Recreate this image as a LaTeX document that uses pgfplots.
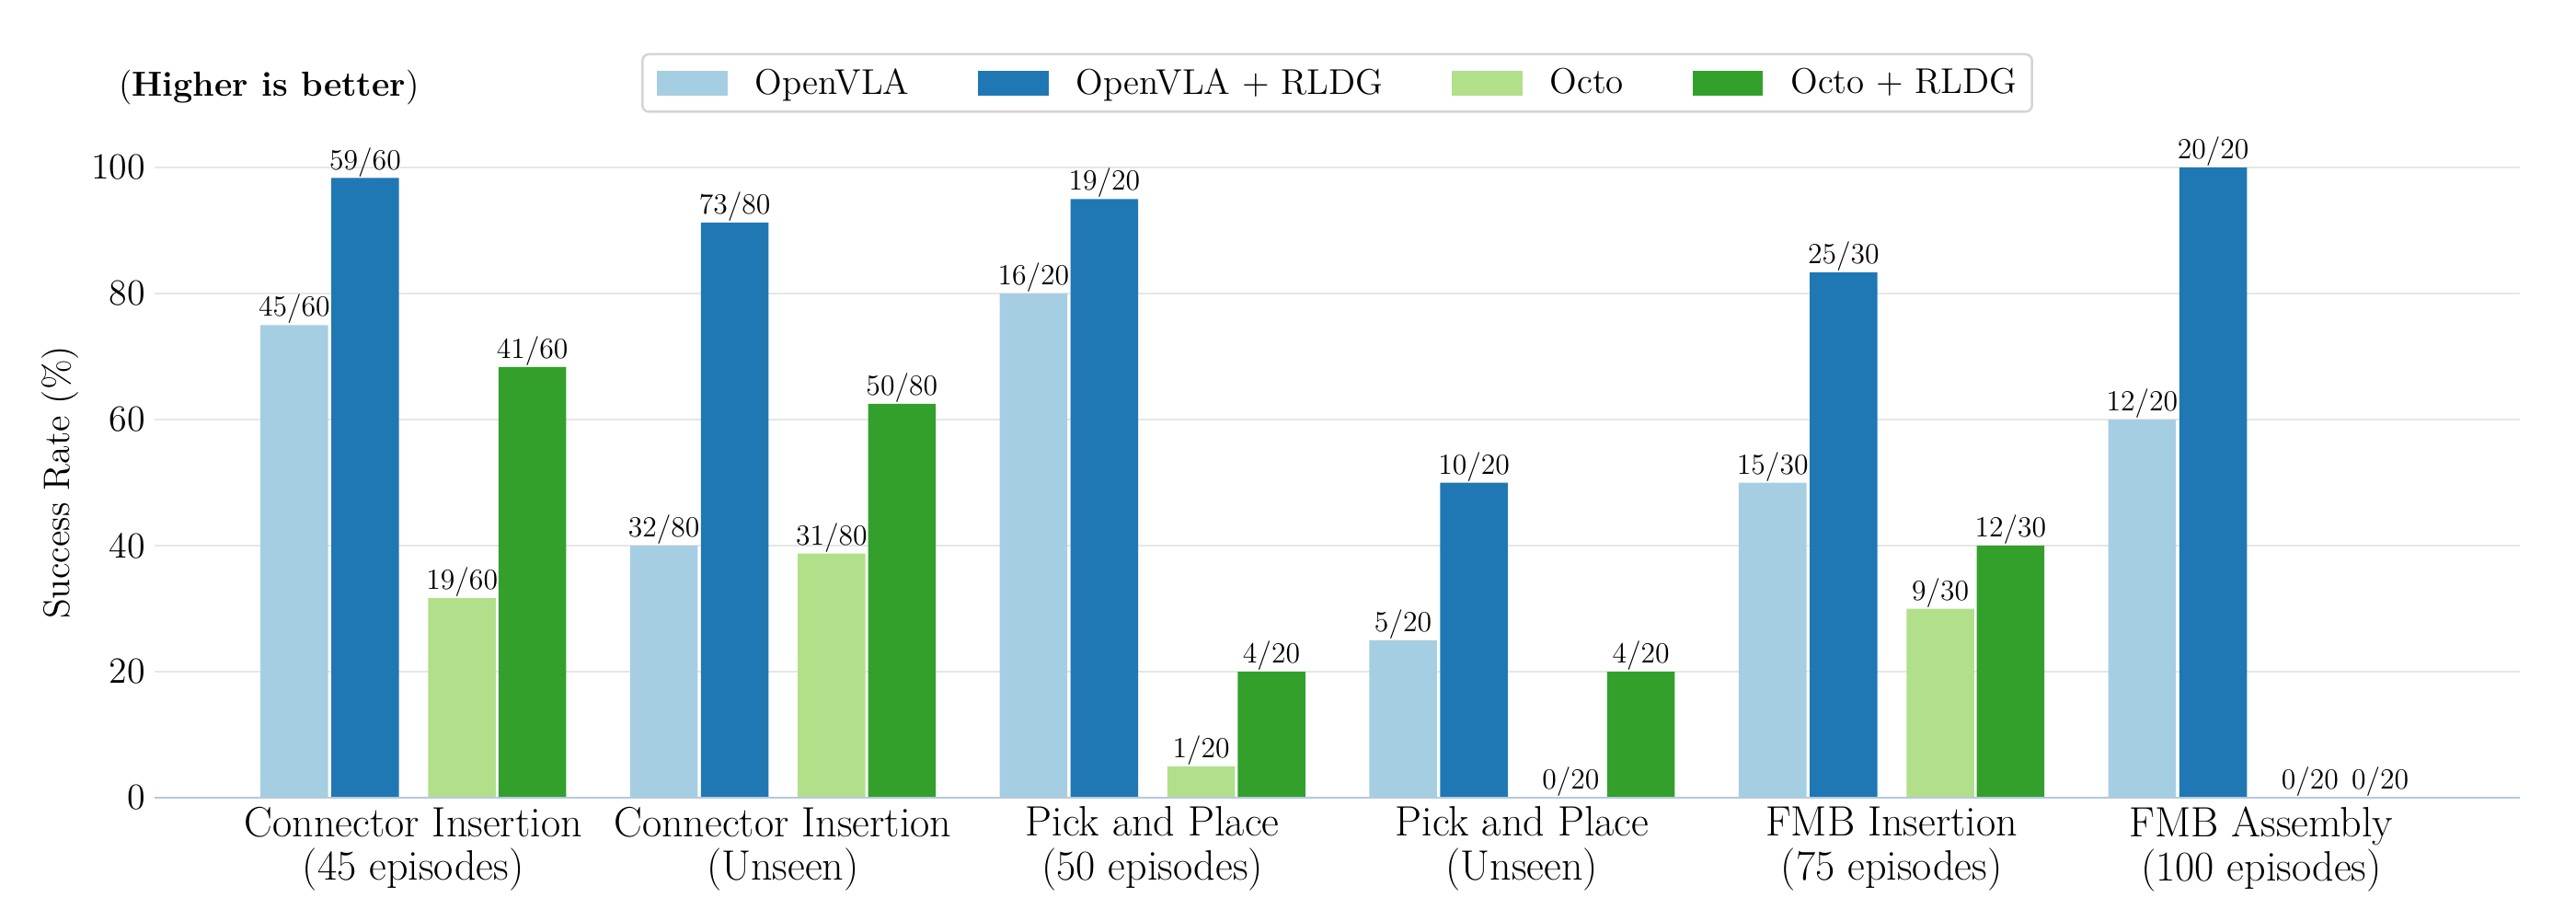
\documentclass[border=0pt]{standalone}
\usepackage{fontspec}
\usepackage{pgfplots}
\pgfplotsset{compat=1.18}
\usepackage{pgfplotstable}
\definecolor{c1}{HTML}{A6CEE3}
\definecolor{c2}{HTML}{1F78B4}
\definecolor{c3}{HTML}{B2DF8A}
\definecolor{c4}{HTML}{33A02C}
\definecolor{gridc}{HTML}{E6E6E6}
\definecolor{spinec}{HTML}{B3C9DD}
\definecolor{legc}{HTML}{D4D4D4}

\pgfplotsset{sqlegend/.style={legend image code/.code={\fill[##1, sharp corners] (0pt,-4.8pt) rectangle (27.5pt,4.8pt);}}}

\pgfplotstableread{
x v1 l1 v2 l2 v3 l3 v4 l4
0 75    45/60 98.33 59/60 31.67 19/60 68.33 41/60
1 40    32/80 91.25 73/80 38.75 31/80 62.5  50/80
2 80    16/20 95    19/20 5     1/20  20    4/20
3 25    5/20  50    10/20 0     0/20  20    4/20
4 50    15/30 83.33 25/30 30    9/30  40    12/30
5 60    12/20 100   20/20 0     0/20  0     0/20
}\data

\newcommand{\lf}{\fontsize{14.4}{17.3}\selectfont}
\newcommand{\xf}{\fontsize{16.6}{17.2}\selectfont}

\begin{document}
\begin{tikzpicture}
\path[use as bounding box] (-60.48pt,-47.88pt) rectangle (947.52pt,312.12pt);
\begin{axis}[
  at={(0,0)}, anchor=south west,
  scale only axis, width=925.56pt, height=246.6pt,
  xmin=-0.70, xmax=5.70, ymin=0, ymax=100,
  clip=false,
  axis line style={draw=none},
  major tick length=0pt,
  ytick={0,20,40,60,80,100},
  ymajorgrids, grid style={gridc, line width=0.75pt},
  xtick={0,1,2,3,4,5},
  xticklabels={{Connector Insertion\\(45 episodes)},{Connector Insertion\\(Unseen)},{Pick and Place\\(50 episodes)},{Pick and Place\\(Unseen)},{FMB Insertion\\(75 episodes)},{FMB Assembly\\(100 episodes)}},
  xticklabel style={align=center, font=\xf},
  yticklabel style={font=\lf},
  /pgf/number format/assume math mode=true,
  ylabel={Success Rate (\%)},
  every axis y label/.style={at={(axis description cs:-0.0399,0.5)}, rotate=90, anchor=center, font=\lf},
  ybar, bar width=0.183, bar shift=0pt,
  nodes near coords,
  point meta=explicit symbolic,
  nodes near coords style={font=\fontsize{11.4}{13}\selectfont, anchor=south, inner sep=0pt, yshift=0.3pt},
  legend columns=4,
  legend style={at={(rel axis cs:0.5,1.134)}, anchor=center, draw=legc, line width=0.9pt,
    rounded corners=2.5pt, fill=white, font=\fontsize{14}{17}\selectfont, inner xsep=5.8pt, inner ysep=4pt,
    nodes={inner xsep=0pt, inner ysep=1.5pt},
    /tikz/every odd column/.append style={column sep=10.8pt},
    /tikz/every even column/.append style={column sep=27pt}},
]
\addplot[sqlegend, fill=c1, draw=none]
  table[x expr=\thisrow{x}-0.322, y=v1, meta=l1]{\data};
\addplot[sqlegend, fill=c2, draw=none]
  table[x expr=\thisrow{x}-0.130, y=v2, meta=l2]{\data};
\addplot[sqlegend, fill=c3, draw=none]
  table[x expr=\thisrow{x}+0.132, y=v3, meta=l3]{\data};
\addplot[sqlegend, fill=c4, draw=none]
  table[x expr=\thisrow{x}+0.322, y=v4, meta=l4]{\data};
\legend{OpenVLA, OpenVLA + RLDG, Octo, Octo + RLDG}
\draw[spinec, line width=0.8pt] (rel axis cs:0,0) -- (rel axis cs:1,0);
\node[font=\fontsize{13.6}{16}\selectfont, anchor=center] at (rel axis cs:0.0484,1.127) {(\textbf{Higher is better})};
\end{axis}
\end{tikzpicture}
\end{document}
